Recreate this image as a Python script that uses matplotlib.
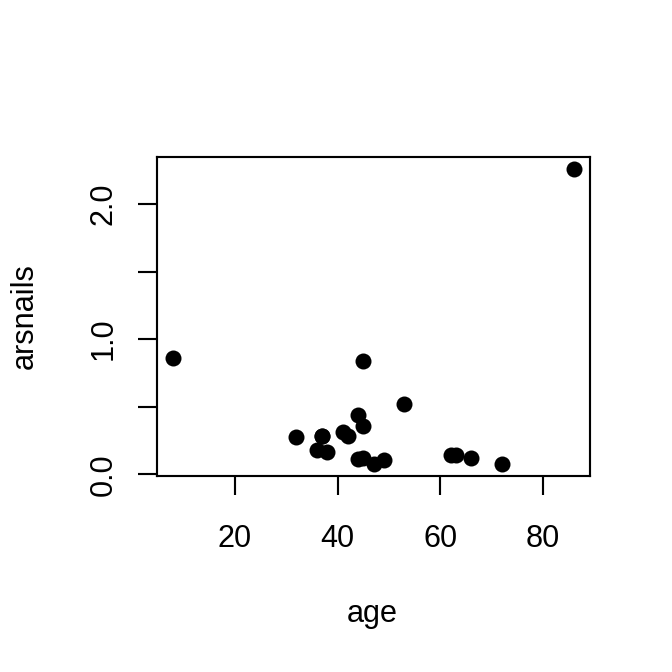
import matplotlib
matplotlib.use("Agg")
import matplotlib.pyplot as plt

# arsenic in toenails vs age
age = [8, 32, 36, 37, 37, 38, 41, 42, 44, 44, 45, 45, 45, 47, 49, 53, 62, 63, 66, 72, 86]
arsnails = [0.86, 0.275, 0.18, 0.28, 0.28, 0.165, 0.31, 0.28, 0.44, 0.115, 0.36, 0.84,
            0.12, 0.08, 0.105, 0.52, 0.14, 0.14, 0.12, 0.075, 2.26]

x_ticks = [20, 40, 60, 80]
y_ticks = [0.0, 0.5, 1.0, 1.5, 2.0]
y_ticklabels = ["0.0", "", "1.0", "", "2.0"]

plt.rcParams["font.family"] = ["Liberation Sans", "DejaVu Sans"]

W = 672
fig = plt.figure(figsize=(7, 7), dpi=96)
ax = fig.add_axes([157 / W, (W - 476) / W, (590 - 157) / W, (476 - 157) / W])

ax.plot(age, arsnails, "o", color="black", markersize=12, markeredgewidth=0)

# R-style 4% padding
xr = max(age) - min(age)
yr = max(arsnails) - min(arsnails)
ax.set_xlim(min(age) - 0.04 * xr, max(age) + 0.04 * xr)
ax.set_ylim(min(arsnails) - 0.04 * yr, max(arsnails) + 0.04 * yr)

ax.set_xticks(x_ticks)
ax.set_xticklabels([str(t) for t in x_ticks])
ax.set_yticks(y_ticks)
ax.set_yticklabels(y_ticklabels, rotation=90, va="center")

for s in ax.spines.values():
    s.set_linewidth(1.6)
ax.tick_params(axis="both", direction="out", length=14, width=1.6,
               labelsize=23, color="black")
ax.tick_params(axis="x", pad=22)
ax.tick_params(axis="y", pad=15)

fig.text(372 / W, 1 - 614 / W, "age", ha="center", va="center", fontsize=23)
fig.text(25 / W, 1 - 316 / W, "arsnails", ha="center", va="center", fontsize=23,
         rotation=90)

fig.savefig("out.png", dpi=96)
